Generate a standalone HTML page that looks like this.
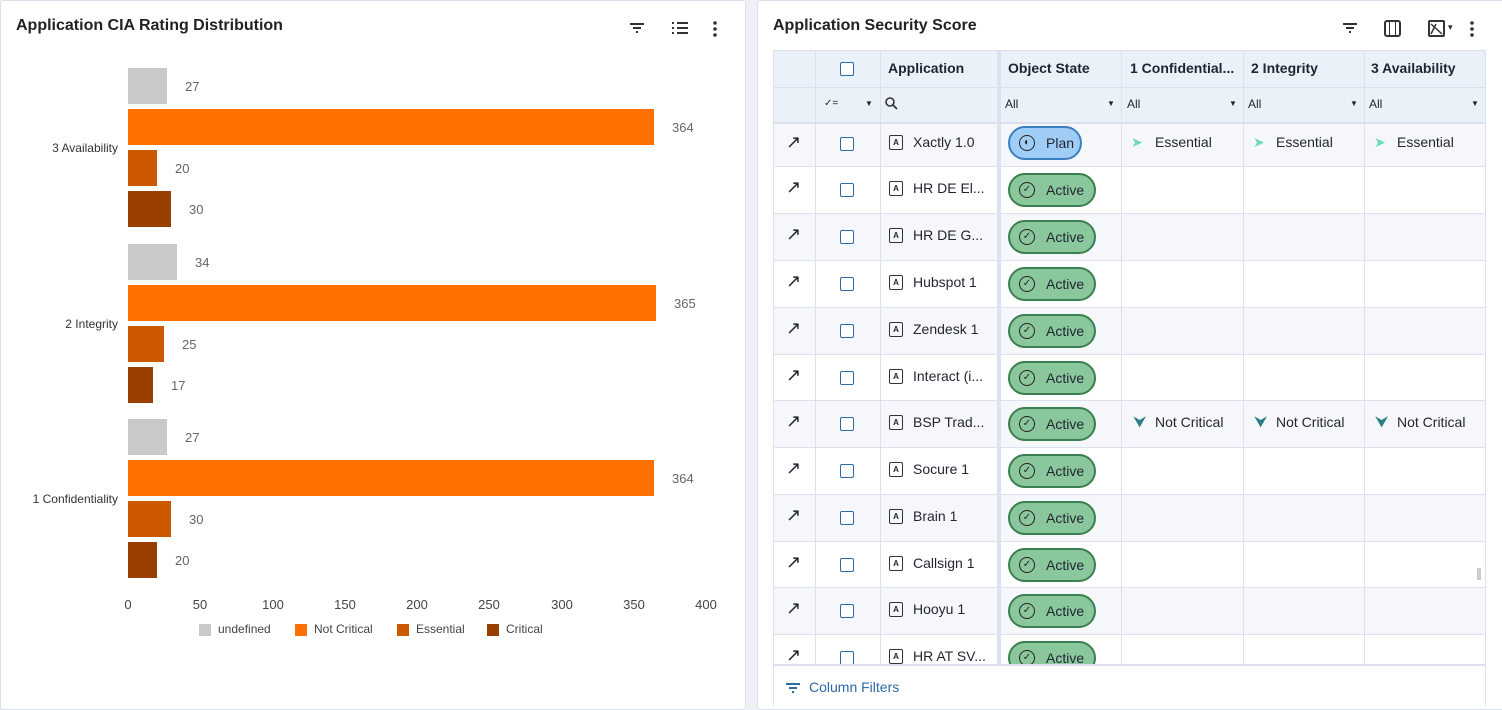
<!DOCTYPE html>
<html><head><meta charset="utf-8"><style>
*{margin:0;padding:0;box-sizing:border-box}
body{width:1502px;height:706px;background:#eef0f6;font-family:"Liberation Sans",sans-serif;position:relative;overflow:hidden;color:#1f2430}
.p{position:absolute;background:#fff;border:1px solid #dde1ee;border-radius:3px}
.a{position:absolute}
.vl{position:absolute;z-index:3}
.t{font-size:16px;font-weight:bold;color:#222}
.bar{position:absolute;left:128px;height:36px}
.v{position:absolute;font-size:13px;color:#666}
.yl{position:absolute;font-size:12px;color:#333;right:1384px;text-align:right;white-space:nowrap}
.xl{position:absolute;top:597px;font-size:13px;color:#444;width:40px;text-align:center}
.row{position:absolute;left:773px;width:713px;border-top:1px solid #dde0ee}
.row.s{background:#f6f7fa}
.tx{position:absolute;font-size:14px;white-space:nowrap}
.cb{position:absolute;width:14px;height:14px;border:1.5px solid #2c6aa8;border-radius:2px;background:#fff}
.pill{position:absolute;left:235px;height:34px;border-radius:17px;border:2px solid #3a7f4f;background:#8bc79c;font-size:14px;line-height:30px;padding-left:36px;width:88px}
.pill i{position:absolute;left:9px;top:7px;width:16px;height:16px;border:1.6px solid #222;border-radius:50%;font-style:normal;font-size:10px;line-height:13px;text-align:center}
.ic{position:absolute;width:14px;height:15px;border:1.6px solid #333;border-radius:2px;font-size:8px;text-align:center;line-height:14px;font-weight:bold}
</style></head><body>
<div class="p" style="left:0;top:0;width:746px;height:710px"></div>
<div class="p" style="left:757px;top:0;width:750px;height:710px"></div>
<div class="a t" style="left:16px;top:17px">Application CIA Rating Distribution</div>
<svg class="a" style="left:629px;top:22px" width="16" height="12"><path d="M1 2h14M4 6h8M7 10h2" stroke="#333" stroke-width="2"/></svg>
<svg class="a" style="left:671px;top:21px" width="18" height="14"><path d="M1 2h2M1 7h2M1 12h2M6 2h11M6 7h11M6 12h11" stroke="#333" stroke-width="2"/></svg>
<svg class="a" style="left:712px;top:20px" width="6" height="18"><circle cx="3" cy="3" r="1.8" fill="#333"/><circle cx="3" cy="9" r="1.8" fill="#333"/><circle cx="3" cy="15" r="1.8" fill="#333"/></svg>

<div class="bar" style="top:68px;width:39px;background:#c9c9cb"></div><div class="v" style="left:185px;top:79px">27</div>
<div class="bar" style="top:109px;width:526px;background:#ff7000"></div><div class="v" style="left:672px;top:120px">364</div>
<div class="bar" style="top:150px;width:29px;background:#cc5800"></div><div class="v" style="left:175px;top:161px">20</div>
<div class="bar" style="top:191px;width:43px;background:#993f00"></div><div class="v" style="left:189px;top:202px">30</div>
<div class="yl" style="top:141px">3 Availability</div>

<div class="bar" style="top:244px;width:49px;background:#c9c9cb"></div><div class="v" style="left:195px;top:255px">34</div>
<div class="bar" style="top:285px;width:528px;background:#ff7000"></div><div class="v" style="left:674px;top:296px">365</div>
<div class="bar" style="top:326px;width:36px;background:#cc5800"></div><div class="v" style="left:182px;top:337px">25</div>
<div class="bar" style="top:367px;width:25px;background:#993f00"></div><div class="v" style="left:171px;top:378px">17</div>
<div class="yl" style="top:317px">2 Integrity</div>

<div class="bar" style="top:419px;width:39px;background:#c9c9cb"></div><div class="v" style="left:185px;top:430px">27</div>
<div class="bar" style="top:460px;width:526px;background:#ff7000"></div><div class="v" style="left:672px;top:471px">364</div>
<div class="bar" style="top:501px;width:43px;background:#cc5800"></div><div class="v" style="left:189px;top:512px">30</div>
<div class="bar" style="top:542px;width:29px;background:#993f00"></div><div class="v" style="left:175px;top:553px">20</div>
<div class="yl" style="top:492px">1 Confidentiality</div>

<div class="xl" style="left:108px">0</div><div class="xl" style="left:180px">50</div><div class="xl" style="left:253px">100</div><div class="xl" style="left:325px">150</div><div class="xl" style="left:397px">200</div><div class="xl" style="left:469px">250</div><div class="xl" style="left:542px">300</div><div class="xl" style="left:614px">350</div><div class="xl" style="left:686px">400</div>

<div class="a" style="left:199px;top:624px;width:12px;height:12px;background:#c9c9cb"></div><div class="a" style="left:218px;top:622px;font-size:12px;color:#444">undefined</div>
<div class="a" style="left:295px;top:624px;width:12px;height:12px;background:#ff7000"></div><div class="a" style="left:314px;top:622px;font-size:12px;color:#444">Not Critical</div>
<div class="a" style="left:397px;top:624px;width:12px;height:12px;background:#cc5800"></div><div class="a" style="left:416px;top:622px;font-size:12px;color:#444">Essential</div>
<div class="a" style="left:487px;top:624px;width:12px;height:12px;background:#993f00"></div><div class="a" style="left:506px;top:622px;font-size:12px;color:#444">Critical</div>

<div class="a t" style="left:773px;top:17px">Application Security Score</div>
<svg class="a" style="left:1342px;top:22px" width="16" height="12"><path d="M1 2h14M4 6h8M7 10h2" stroke="#333" stroke-width="2"/></svg>
<div class="a" style="left:1384px;top:20px;width:17px;height:17px;border:2px solid #333;border-radius:3px"></div>
<div class="a" style="left:1389px;top:20px;width:7px;height:17px;border-left:1.5px solid #333;border-right:1.5px solid #333"></div>
<div class="a" style="left:1428px;top:20px;width:17px;height:17px;border:2px solid #333;border-radius:2px"></div>
<svg class="a" style="left:1430px;top:22px" width="13" height="13"><path d="M1 2L12 12M1 12L6 2" stroke="#333" stroke-width="1.5" fill="none"/></svg>
<div class="a" style="left:1448px;top:22px;font-size:9px">▾</div>
<svg class="a" style="left:1469px;top:20px" width="6" height="18"><circle cx="3" cy="3" r="1.8" fill="#333"/><circle cx="3" cy="9" r="1.8" fill="#333"/><circle cx="3" cy="15" r="1.8" fill="#333"/></svg>

<!-- header -->
<div class="a" style="left:773px;top:50px;width:713px;height:73px;background:#eaf1f9;border:1px solid #d8dfee"></div>
<div class="a" style="left:773px;top:87px;width:713px;border-top:1px solid #d8dfee"></div>
<div class="cb" style="left:840px;top:62px"></div>
<div class="tx" style="left:888px;top:60px;font-weight:bold">Application</div>
<div class="tx" style="left:1008px;top:60px;font-weight:bold">Object State</div>
<div class="tx" style="left:1130px;top:60px;font-weight:bold">1 Confidential...</div>
<div class="tx" style="left:1251px;top:60px;font-weight:bold">2 Integrity</div>
<div class="tx" style="left:1371px;top:60px;font-weight:bold">3 Availability</div>
<div class="tx" style="left:824px;top:98px;font-size:10px">✓=</div><div class="tx" style="left:865px;top:99px;font-size:8px">▼</div>
<svg class="a" style="left:885px;top:97px" width="13" height="13"><circle cx="5" cy="5" r="4" stroke="#333" stroke-width="1.6" fill="none"/><path d="M8 8l4 4" stroke="#333" stroke-width="1.8"/></svg>
<div class="tx" style="left:1005px;top:97px;font-size:12px">All</div><div class="tx" style="left:1107px;top:99px;font-size:8px">▼</div>
<div class="tx" style="left:1127px;top:97px;font-size:12px">All</div><div class="tx" style="left:1229px;top:99px;font-size:8px">▼</div>
<div class="tx" style="left:1248px;top:97px;font-size:12px">All</div><div class="tx" style="left:1350px;top:99px;font-size:8px">▼</div>
<div class="tx" style="left:1369px;top:97px;font-size:12px">All</div><div class="tx" style="left:1471px;top:99px;font-size:8px">▼</div>

<!-- rows -->
<div class="row s" style="top:123px;height:43px"><div class="tx" style="left:13px;top:8px;font-size:18px">↗</div><div class="cb" style="left:67px;top:13px"></div><div class="ic" style="left:116px;top:11px">A</div><div class="tx" style="left:140px;top:10px">Xactly 1.0</div><div class="pill" style="top:2px;width:74px;background:#a0cdf5;border-color:#3a7fc0">Plan<i>◐</i></div><div class="tx" style="left:358px;top:10px;color:#6fd9bb">➤</div><div class="tx" style="left:382px;top:10px">Essential</div><div class="tx" style="left:480px;top:10px;color:#6fd9bb">➤</div><div class="tx" style="left:503px;top:10px">Essential</div><div class="tx" style="left:601px;top:10px;color:#6fd9bb">➤</div><div class="tx" style="left:624px;top:10px">Essential</div></div>
<div class="row" style="top:166px;height:47px"><div class="tx" style="left:13px;top:10px;font-size:18px">↗</div><div class="cb" style="left:67px;top:16px"></div><div class="ic" style="left:116px;top:14px">A</div><div class="tx" style="left:140px;top:13px">HR DE El...</div><div class="pill" style="top:6px">Active<i>✓</i></div></div>
<div class="row s" style="top:213px;height:47px"><div class="tx" style="left:13px;top:10px;font-size:18px">↗</div><div class="cb" style="left:67px;top:16px"></div><div class="ic" style="left:116px;top:14px">A</div><div class="tx" style="left:140px;top:13px">HR DE G...</div><div class="pill" style="top:6px">Active<i>✓</i></div></div>
<div class="row" style="top:260px;height:47px"><div class="tx" style="left:13px;top:10px;font-size:18px">↗</div><div class="cb" style="left:67px;top:16px"></div><div class="ic" style="left:116px;top:14px">A</div><div class="tx" style="left:140px;top:13px">Hubspot 1</div><div class="pill" style="top:6px">Active<i>✓</i></div></div>
<div class="row s" style="top:307px;height:47px"><div class="tx" style="left:13px;top:10px;font-size:18px">↗</div><div class="cb" style="left:67px;top:16px"></div><div class="ic" style="left:116px;top:14px">A</div><div class="tx" style="left:140px;top:13px">Zendesk 1</div><div class="pill" style="top:6px">Active<i>✓</i></div></div>
<div class="row" style="top:354px;height:46px"><div class="tx" style="left:13px;top:10px;font-size:18px">↗</div><div class="cb" style="left:67px;top:16px"></div><div class="ic" style="left:116px;top:14px">A</div><div class="tx" style="left:140px;top:13px">Interact (i...</div><div class="pill" style="top:6px">Active<i>✓</i></div></div>
<div class="row s" style="top:400px;height:47px"><div class="tx" style="left:13px;top:10px;font-size:18px">↗</div><div class="cb" style="left:67px;top:16px"></div><div class="ic" style="left:116px;top:14px">A</div><div class="tx" style="left:140px;top:13px">BSP Trad...</div><div class="pill" style="top:6px">Active<i>✓</i></div><div class="tx" style="left:360px;top:13px;color:#2d7f86;font-size:16px">⮟</div><div class="tx" style="left:382px;top:13px">Not Critical</div><div class="tx" style="left:481px;top:13px;color:#2d7f86;font-size:16px">⮟</div><div class="tx" style="left:503px;top:13px">Not Critical</div><div class="tx" style="left:602px;top:13px;color:#2d7f86;font-size:16px">⮟</div><div class="tx" style="left:624px;top:13px">Not Critical</div></div>
<div class="row" style="top:447px;height:47px"><div class="tx" style="left:13px;top:10px;font-size:18px">↗</div><div class="cb" style="left:67px;top:16px"></div><div class="ic" style="left:116px;top:14px">A</div><div class="tx" style="left:140px;top:13px">Socure 1</div><div class="pill" style="top:6px">Active<i>✓</i></div></div>
<div class="row s" style="top:494px;height:47px"><div class="tx" style="left:13px;top:10px;font-size:18px">↗</div><div class="cb" style="left:67px;top:16px"></div><div class="ic" style="left:116px;top:14px">A</div><div class="tx" style="left:140px;top:13px">Brain 1</div><div class="pill" style="top:6px">Active<i>✓</i></div></div>
<div class="row" style="top:541px;height:46px"><div class="tx" style="left:13px;top:10px;font-size:18px">↗</div><div class="cb" style="left:67px;top:16px"></div><div class="ic" style="left:116px;top:14px">A</div><div class="tx" style="left:140px;top:13px">Callsign 1</div><div class="pill" style="top:6px">Active<i>✓</i></div><div class="a" style="left:704px;top:26px;width:4px;height:12px;background:#ccc"></div></div>
<div class="row s" style="top:587px;height:47px"><div class="tx" style="left:13px;top:10px;font-size:18px">↗</div><div class="cb" style="left:67px;top:16px"></div><div class="ic" style="left:116px;top:14px">A</div><div class="tx" style="left:140px;top:13px">Hooyu 1</div><div class="pill" style="top:6px">Active<i>✓</i></div></div>
<div class="row" style="top:634px;height:31px;overflow:hidden"><div class="tx" style="left:13px;top:10px;font-size:18px">↗</div><div class="cb" style="left:67px;top:16px"></div><div class="ic" style="left:116px;top:14px">A</div><div class="tx" style="left:140px;top:13px">HR AT SV...</div><div class="pill" style="top:6px">Active<i>✓</i></div></div>

<div class="vl" style="left:773px;top:50px;height:656px;border-left:1px solid #dde0ee"></div>
<div class="vl" style="left:815px;top:50px;height:615px;border-left:1px solid #dde0ee"></div>
<div class="vl" style="left:880px;top:50px;height:615px;border-left:1px solid #dde0ee"></div>
<div class="vl" style="left:997px;top:50px;height:615px;width:4px;background:#dde2ef"></div>
<div class="vl" style="left:1121px;top:50px;height:615px;border-left:1px solid #dde0ee"></div>
<div class="vl" style="left:1243px;top:50px;height:615px;border-left:1px solid #dde0ee"></div>
<div class="vl" style="left:1364px;top:50px;height:615px;border-left:1px solid #dde0ee"></div>
<div class="vl" style="left:1485px;top:50px;height:656px;border-left:1px solid #dde0ee"></div>

<div class="vl" style="left:773px;top:664px;width:713px;border-top:2px solid #dde0ee"></div>
<svg class="a" style="left:785px;top:682px" width="16" height="12"><path d="M1 2h14M4 6h8M7 10h2" stroke="#2c6aa8" stroke-width="2"/></svg>
<div class="tx" style="left:809px;top:679px;color:#2c6aa8;font-size:14px">Column Filters</div>
</body></html>
